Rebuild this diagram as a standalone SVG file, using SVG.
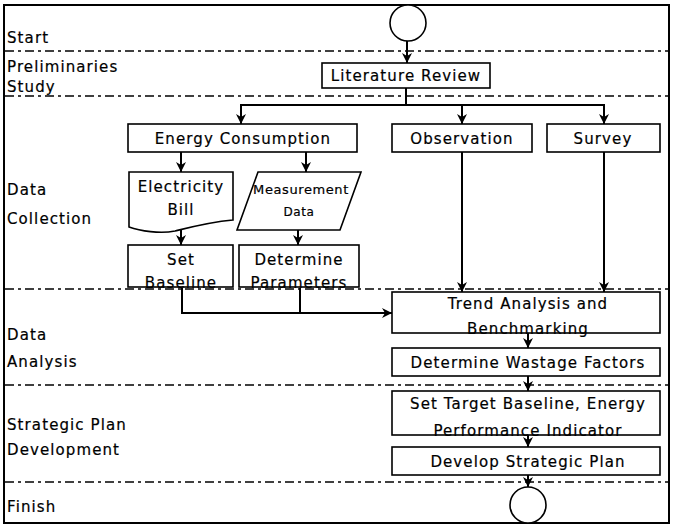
<svg xmlns="http://www.w3.org/2000/svg" width="673" height="527" viewBox="0 0 673 527">
<defs>
<marker id="ah" viewBox="0 0 10 10" refX="10" refY="5" markerWidth="10" markerHeight="10" markerUnits="userSpaceOnUse" orient="auto">
<path d="M0,0 L10,5 L0,10 L3,5 Z" fill="#000"/>
</marker>
</defs>
<style>
.box{fill:#fff;stroke:#000;stroke-width:1.6}
.fill{fill:#fff;stroke:none}
.edge{fill:none;stroke:#000;stroke-width:1.6}
.lane{stroke:#000;stroke-width:1.3;stroke-dasharray:9 4 3 4;fill:none}
.conn{stroke:#000;stroke-width:2;fill:none}
.arr{stroke:#000;stroke-width:2;fill:none;marker-end:url(#ah)}
text{font-family:"DejaVu Sans","Liberation Sans",sans-serif;font-size:15px;letter-spacing:1.1px;fill:#000;stroke:#000;stroke-width:0.2}
.c{text-anchor:middle}
</style>
<rect x="0" y="0" width="673" height="527" fill="#fff"/>
<rect x="4" y="5" width="665" height="518" fill="none" stroke="#000" stroke-width="2"/>
<g id="lanes">
<line class="lane" x1="5" y1="51" x2="668" y2="51"/>
<line class="lane" x1="5" y1="96" x2="668" y2="96"/>
<line class="lane" x1="5" y1="289" x2="668" y2="289"/>
<line class="lane" x1="5" y1="385" x2="668" y2="385"/>
<line class="lane" x1="5" y1="482" x2="668" y2="482"/>
<text x="7" y="43">Start</text>
<text x="7" y="72">Preliminaries</text>
<text x="7" y="92">Study</text>
<text x="7" y="195">Data</text>
<text x="7" y="224">Collection</text>
<text x="7" y="340">Data</text>
<text x="7" y="367">Analysis</text>
<text x="7" y="430">Strategic Plan</text>
<text x="7" y="455">Development</text>
<text x="7" y="512">Finish</text>
</g>
<g id="connectors">
<line class="arr" x1="407" y1="41" x2="407" y2="63"/>
<line class="conn" x1="406" y1="88" x2="406" y2="105"/>
<line class="conn" x1="241" y1="105" x2="604" y2="105"/>
<line class="arr" x1="241" y1="104" x2="241" y2="124"/>
<line class="arr" x1="462" y1="104" x2="462" y2="124"/>
<line class="arr" x1="604" y1="104" x2="604" y2="124"/>
<line class="arr" x1="181" y1="152" x2="181" y2="172"/>
<line class="arr" x1="306" y1="152" x2="306" y2="172"/>
<line class="arr" x1="181" y1="228" x2="181" y2="245"/>
<line class="arr" x1="298" y1="230" x2="298" y2="245"/>
<polyline class="arr" points="182,288 182,313 392,313"/>
<line class="conn" x1="300" y1="288" x2="300" y2="313"/>
<line class="arr" x1="462" y1="152" x2="462" y2="292"/>
<line class="arr" x1="604" y1="152" x2="604" y2="292"/>
<line class="arr" x1="528" y1="333" x2="528" y2="348"/>
<line class="arr" x1="528" y1="376" x2="528" y2="391"/>
<line class="arr" x1="528" y1="435" x2="528" y2="447"/>
<line class="arr" x1="528" y1="475" x2="528" y2="487"/>
</g>
<g id="start"><circle class="box" cx="408" cy="23" r="18"/></g>
<g id="literature-review"><rect class="box" x="322" y="63" width="168" height="25"/><text class="c" x="406" y="81">Literature Review</text></g>
<g id="energy-consumption"><rect class="box" x="128" y="124" width="229" height="28"/><text class="c" x="243" y="144">Energy Consumption</text></g>
<g id="observation"><rect class="box" x="392" y="124" width="140" height="28"/><text class="c" x="462" y="144">Observation</text></g>
<g id="survey"><rect class="box" x="547" y="124" width="113" height="28"/><text class="c" x="603" y="144">Survey</text></g>
<g id="electricity-bill"><path class="box" d="M129,172 L233,172 L233,220 C210,222 195,226 175,231 C160,234 140,231 129,227 Z"/><text class="c" x="181" y="192">Electricity</text><text class="c" x="181" y="215">Bill</text></g>
<g id="measurement-data"><path class="box" d="M258,172 L361,172 L340,230 L237,230 Z"/><text class="c" x="301" y="194" style="font-size:13px;letter-spacing:0.6px">Measurement</text><text class="c" x="299" y="216" style="font-size:12px;letter-spacing:0.6px">Data</text></g>
<g id="set-baseline"><rect class="fill" x="128" y="245" width="105" height="42"/><text class="c" x="181" y="265">Set</text><text class="c" x="181" y="288">Baseline</text><rect class="edge" x="128" y="245" width="105" height="42"/></g>
<g id="determine-parameters"><rect class="fill" x="239" y="245" width="120" height="42"/><text class="c" x="299" y="265">Determine</text><text class="c" x="299" y="288">Parameters</text><rect class="edge" x="239" y="245" width="120" height="42"/></g>
<g id="trend-analysis"><rect class="fill" x="392" y="292" width="268" height="41"/><text class="c" x="528" y="309">Trend Analysis and</text><text class="c" x="528" y="334">Benchmarking</text><rect class="edge" x="392" y="292" width="268" height="41"/></g>
<g id="wastage"><rect class="box" x="392" y="348" width="268" height="28"/><text class="c" x="528" y="368">Determine Wastage Factors</text></g>
<g id="target"><rect class="fill" x="392" y="391" width="268" height="44"/><text class="c" x="528" y="409">Set Target Baseline, Energy</text><text class="c" x="528" y="436">Performance Indicator</text><rect class="edge" x="392" y="391" width="268" height="44"/></g>
<g id="develop"><rect class="box" x="392" y="447" width="268" height="28"/><text class="c" x="528" y="467">Develop Strategic Plan</text></g>
<g id="finish"><circle class="box" cx="528" cy="505" r="18"/></g>
</svg>
